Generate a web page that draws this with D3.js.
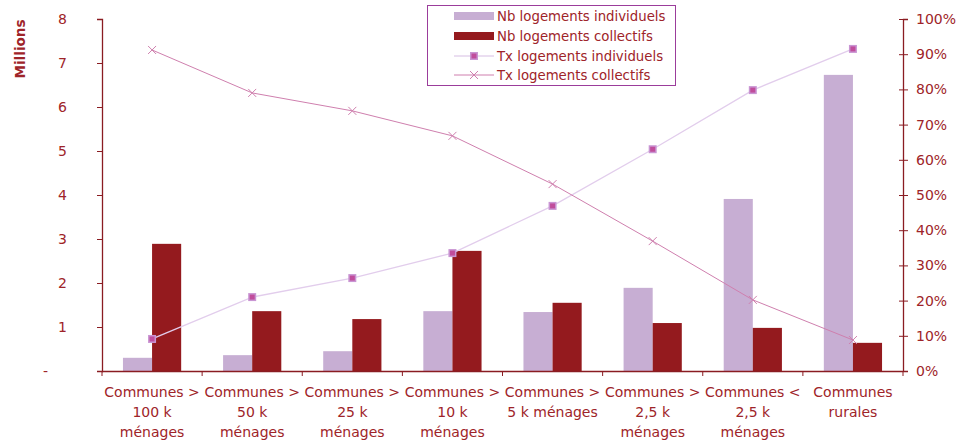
<!DOCTYPE html>
<html>
<head>
<meta charset="utf-8">
<script src="https://cdn.jsdelivr.net/npm/d3@7"></script>
<style>
  html, body { margin: 0; padding: 0; background: #fff; }
  svg { display: block; font-family: "DejaVu Sans", Verdana, sans-serif; }
</style>
</head>
<body>
<svg id="chart" width="958" height="442"></svg>
<script>
// Housing stock by commune size (millions of dwellings) and share of each type
const categories = [
  ["Communes >", "100 k", "ménages"],
  ["Communes >", "50 k", "ménages"],
  ["Communes >", "25 k", "ménages"],
  ["Communes >", "10 k", "ménages"],
  ["Communes >", "5 k ménages"],
  ["Communes >", "2,5 k", "ménages"],
  ["Communes <", "2,5 k", "ménages"],
  ["Communes", "rurales"]
];
const nbIndividuels = [0.30, 0.36, 0.45, 1.36, 1.34, 1.89, 3.91, 6.73];
const nbCollectifs  = [2.89, 1.36, 1.18, 2.73, 1.55, 1.09, 0.98, 0.64];
const txIndividuels = [0.091, 0.210, 0.264, 0.335, 0.469, 0.630, 0.798, 0.915];
const txCollectifs  = [0.912, 0.790, 0.739, 0.668, 0.531, 0.369, 0.202, 0.088];
const leftTicks  = [0, 1, 2, 3, 4, 5, 6, 7, 8];
const rightTicks = [0, 0.1, 0.2, 0.3, 0.4, 0.5, 0.6, 0.7, 0.8, 0.9, 1.0];
const seriesNames = ["Nb logements individuels", "Nb logements collectifs",
                     "Tx logements individuels", "Tx logements collectifs"];

const textColor = "#9e2429";
const axisColor = "#8a1c22";
const colIndiv = "#c7aed3";
const colColl = "#941a1e";
const lineIndiv = "#e2cdec";
const lineColl = "#cf7fae";

const svg = d3.select("#chart");
const plotLeft = 102, plotRight = 903, plotTop = 19, plotBottom = 371;

const x = d3.scaleBand().domain(d3.range(categories.length)).range([plotLeft, plotRight]);
const inner = d3.scaleBand().domain([0, 1]).range([0, x.bandwidth()]).paddingOuter(0.72);
const yL = d3.scaleLinear().domain([0, 8]).range([plotBottom, plotTop]);
const yR = d3.scaleLinear().domain([0, 1]).range([plotBottom, plotTop]);

// Bars
const g = svg.append("g");
categories.forEach((c, i) => {
  [[nbIndividuels[i], colIndiv], [nbCollectifs[i], colColl]].forEach(([v, col], k) => {
    g.append("rect")
      .attr("x", x(i) + inner(k))
      .attr("width", inner.bandwidth())
      .attr("y", yL(v))
      .attr("height", yL(0) - yL(v))
      .attr("fill", col);
  });
});

// Left axis
const axL = svg.append("g").attr("transform", `translate(${plotLeft},0)`)
  .call(d3.axisLeft(yL).tickValues(leftTicks).tickSize(5).tickPadding(30)
    .tickFormat(d => d === 0 ? "-" : d3.format("d")(d)));
axL.select(".domain").attr("stroke", axisColor).attr("stroke-width", 1.3);
axL.selectAll(".tick line").attr("stroke", axisColor);
axL.selectAll(".tick text").attr("fill", textColor).attr("font-size", 14)
  .attr("font-family", "DejaVu Sans, sans-serif");
axL.selectAll(".tick").filter(d => d === 0).select("text").attr("dx", -19);

// Right axis
const axR = svg.append("g").attr("transform", `translate(${plotRight},0)`)
  .call(d3.axisRight(yR).tickValues(rightTicks).tickSize(5).tickPadding(8)
    .tickFormat(d3.format(".0%")));
axR.select(".domain").attr("stroke", axisColor).attr("stroke-width", 1.3);
axR.selectAll(".tick line").attr("stroke", axisColor).attr("x1", -4);
axR.selectAll(".tick text").attr("fill", textColor).attr("font-size", 14)
  .attr("font-family", "DejaVu Sans, sans-serif");

// Bottom axis
const axB = svg.append("g").attr("transform", `translate(0,${plotBottom})`);
axB.append("line").attr("x1", plotLeft).attr("x2", plotRight).attr("y1", 0.5).attr("y2", 0.5)
  .attr("stroke", axisColor).attr("stroke-width", 1.3);
d3.range(categories.length + 1).forEach(i => {
  const xx = i < categories.length ? x(i) : plotRight;
  axB.append("line").attr("x1", xx).attr("x2", xx).attr("y1", 0).attr("y2", 5)
    .attr("stroke", axisColor);
});
categories.forEach((lines, i) => {
  const t = axB.append("text")
    .attr("x", x(i) + x.bandwidth() / 2)
    .attr("y", 26)
    .attr("text-anchor", "middle")
    .attr("fill", textColor)
    .attr("font-size", 14);
  lines.forEach((ln, j) => {
    t.append("tspan").attr("x", x(i) + x.bandwidth() / 2).attr("dy", j === 0 ? 0 : 20).text(ln);
  });
});

// Axis title
svg.append("text")
  .attr("transform", "translate(25,49) rotate(-90)")
  .attr("text-anchor", "middle")
  .attr("fill", textColor)
  .attr("font-size", 13.5)
  .attr("font-weight", "bold")
  .attr("font-family", "DejaVu Sans, sans-serif")
  .text("Millions");

// Lines
const cx = i => x(i) + x.bandwidth() / 2;
const lineGen = d3.line().x((d, i) => cx(i)).y(d => yR(d));
svg.append("path").datum(txIndividuels).attr("d", lineGen)
  .attr("fill", "none").attr("stroke", lineIndiv).attr("stroke-width", 1.3);
svg.append("path").datum(txCollectifs).attr("d", lineGen)
  .attr("fill", "none").attr("stroke", lineColl).attr("stroke-width", 1);

function squareMarker(sel, px, py) {
  sel.append("rect").attr("x", px - 4).attr("y", py - 4).attr("width", 8).attr("height", 8)
    .attr("fill", "#c995d3");
  sel.append("rect").attr("x", px - 2.5).attr("y", py - 2.5).attr("width", 5).attr("height", 5)
    .attr("fill", "#c04d9c");
}
function crossMarker(sel, px, py) {
  sel.append("path")
    .attr("d", `M${px - 4},${py - 4}L${px + 4},${py + 4}M${px - 4},${py + 4}L${px + 4},${py - 4}`)
    .attr("stroke", lineColl).attr("stroke-width", 1).attr("fill", "none");
}
const mk = svg.append("g");
txIndividuels.forEach((v, i) => squareMarker(mk, cx(i), yR(v)));
txCollectifs.forEach((v, i) => crossMarker(mk, cx(i), yR(v)));

// Legend
const lg = svg.append("g");
lg.append("rect").attr("x", 427.5).attr("y", 5.5).attr("width", 248).attr("height", 80)
  .attr("fill", "#fff").attr("stroke", "#9b3d9b").attr("stroke-width", 1);
const rowY = [16, 36, 56, 75];
seriesNames.forEach((name, k) => {
  const yy = rowY[k];
  if (k === 0) lg.append("rect").attr("x", 454).attr("y", yy - 4).attr("width", 40).attr("height", 8).attr("fill", colIndiv);
  if (k === 1) lg.append("rect").attr("x", 454).attr("y", yy - 4).attr("width", 40).attr("height", 8).attr("fill", colColl);
  if (k === 2) {
    lg.append("line").attr("x1", 454).attr("x2", 494).attr("y1", yy).attr("y2", yy).attr("stroke", "#d6bde3");
    squareMarker(lg, 474, yy);
  }
  if (k === 3) {
    lg.append("line").attr("x1", 454).attr("x2", 494).attr("y1", yy).attr("y2", yy).attr("stroke", lineColl);
    crossMarker(lg, 474, yy);
  }
  lg.append("text").attr("x", 497).attr("y", yy + 4.5)
    .attr("fill", textColor).attr("font-size", 13.3).text(name);
});
</script>
</body>
</html>
